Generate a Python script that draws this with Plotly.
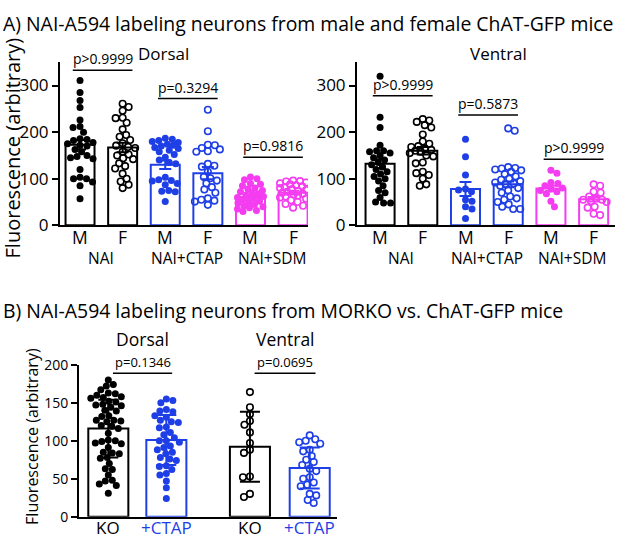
import plotly.graph_objects as go
import numpy as np

W, H = 617, 545
FONT = "Open Sans"
BLACK = "#000000"
BLUE = "#1f3fe6"
PINK = "#f43cf0"

# ---------------- Panel A data ----------------
a_groups = ["NAI", "NAI+CTAP", "NAI+SDM"]
a_sex = ["M", "F"]
a_colors = [BLACK, BLACK, BLUE, BLUE, PINK, PINK]
a_filled = [True, False, True, False, True, False]

dorsal_pvals = ["p>0.9999", "p=0.3294", "p=0.9816"]
dorsal_pline = [333, 272, 146]
ventral_pvals = ["p>0.9999", "p=0.5873", "p>0.9999"]
ventral_pline = [278, 237, 142]

dorsal_means = [173, 167, 130, 112, 61, 70]
dorsal_sem = [10, 10, 9, 13, 4, 4]
ventral_means = [132, 160, 78, 88, 79, 56]
ventral_sem = [10, 8, 15, 6, 6, 5]

dorsal_nai_m = [311, 285, 268, 253, 226, 212, 210, 200, 186, 184, 182, 178, 175, 172,
                170, 163, 158, 150, 148, 145, 143, 120, 103, 100, 100, 93, 85, 57]
dorsal_nai_f = [261, 254, 246, 231, 230, 220, 206, 194, 190, 183, 176, 171, 168, 166,
                158, 152, 150, 144, 142, 133, 127, 122, 111, 100, 94, 87, 80]
dorsal_ctap_m = [187, 185, 182, 180, 178, 174, 172, 170, 167, 165, 161, 158, 152, 146,
                 140, 135, 132, 103, 98, 96, 95, 90, 87, 75, 73, 72, 51]
dorsal_ctap_f = [248, 202, 173, 172, 166, 163, 159, 158, 132, 128, 126, 115, 104, 101,
                 96, 90, 82, 77, 70, 58, 55, 53, 51, 44]
dorsal_sdm_m = [104, 100, 98, 90, 88, 85, 80, 78, 75, 72, 70, 68, 65, 62, 60, 58, 55,
                52, 50, 48, 45, 42, 40, 38, 35, 32, 30]
dorsal_sdm_f = [96, 95, 94, 92, 90, 88, 86, 84, 82, 80, 78, 76, 74, 72, 70, 68, 66, 64,
                62, 60, 57, 54, 50, 46, 42, 38]

ventral_nai_m = [320, 232, 210, 172, 160, 160, 158, 155, 150, 145, 140, 135, 130, 125,
                 120, 115, 110, 105, 100, 95, 85, 75, 70, 60, 50, 48, 48]
ventral_nai_f = [228, 225, 222, 215, 210, 195, 180, 175, 170, 168, 165, 162, 160, 158,
                 155, 150, 148, 135, 133, 115, 112, 108, 100, 88, 85]
ventral_ctap_m = [185, 147, 108, 78, 76, 72, 55, 52, 40, 35, 15]
ventral_ctap_f = [208, 203, 125, 123, 122, 120, 118, 115, 110, 105, 100, 98, 95, 92, 90,
                  88, 85, 80, 75, 70, 62, 58, 55, 50, 45, 40, 35, 35]
ventral_sdm_m = [118, 112, 92, 90, 85, 80, 78, 75, 72, 68, 52, 40]
ventral_sdm_f = [88, 85, 72, 70, 62, 58, 55, 55, 52, 50, 40, 38, 25, 22]

dorsal_points = [dorsal_nai_m, dorsal_nai_f, dorsal_ctap_m, dorsal_ctap_f, dorsal_sdm_m, dorsal_sdm_f]
ventral_points = [ventral_nai_m, ventral_nai_f, ventral_ctap_m, ventral_ctap_f, ventral_sdm_m, ventral_sdm_f]

# ---------------- Panel B data ----------------
b_labels = ["KO", "+CTAP", "KO", "+CTAP"]
b_regions = ["Dorsal", "Ventral"]
b_pvals = ["p=0.1346", "p=0.0695"]
b_pline = [189, 189]
b_colors = [BLACK, BLUE, BLACK, BLUE]
b_filled = [True, True, False, False]
b_means = [116, 101, 92, 64]
b_sd = [38, 33, 46, 27]

b_dorsal_ko = [180, 174, 172, 167, 163, 162, 160, 158, 157, 156, 152, 151, 148, 147, 146,
               144, 140, 139, 133, 132, 127, 127, 126, 125, 120, 119, 116, 110, 101, 100,
               99, 97, 96, 91, 85, 84, 83, 78, 77, 70, 63, 62, 55, 48, 47, 43, 41, 31]
b_dorsal_ctap = [155, 153, 150, 141, 139, 138, 133, 131, 127, 125, 124, 118, 117, 111, 108,
                 104, 100, 100, 98, 93, 91, 88, 85, 83, 78, 76, 74, 67, 66, 62, 57, 55, 47,
                 38, 24]
b_ventral_ko = [164, 144, 135, 126, 121, 111, 97, 88, 84, 53, 52, 30, 26]
b_ventral_ctap = [107, 102, 100, 98, 96, 88, 86, 80, 75, 72, 68, 63, 60, 52, 50, 45, 42,
                  40, 30, 28, 22, 18]
b_points = [b_dorsal_ko, b_dorsal_ctap, b_ventral_ko, b_ventral_ctap]

# ---------------- layout geometry (pixels) ----------------
def fx(p):
    return p / W

def fy(p):
    return 1 - p / H

A_Y_DOM = [fy(224), fy(54.3)]
A_Y_RANGE = [0, 350]
AD_X_DOM = [fx(60), fx(308)]
AD_X_RANGE = [-0.47, 5.35]
AV_X_DOM = [fx(357), fx(615)]
AV_X_RANGE = [-0.54, 5.5]
B_X_DOM = [fx(79), fx(337)]
B_X_RANGE = [-0.505, 3.94]
B_Y_DOM = [fy(527), fy(369)]
B_Y_RANGE = [0, 200]

a_pos = list(range(6))
b_pos = [0, 1.0, 2.44, 3.47]


def swarm(vals, pxx, pxy, diam, maxhalf):
    cand = np.arange(-maxhalf, maxhalf + 0.01, 0.5)
    order = sorted(range(len(vals)), key=lambda i: -vals[i])
    res = [0.0] * len(vals)
    placed = []
    for k, i in enumerate(order):
        yp = vals[i] * pxy
        if not placed:
            placed.append((0.0, yp))
            continue
        P = np.array(placed)
        d = np.sqrt((cand[:, None] - P[None, :, 0]) ** 2 + (yp - P[None, :, 1]) ** 2).min(axis=1)
        ok = d >= diam
        if ok.any():
            idx = np.where(ok)[0]
            a = np.abs(cand[idx])
            m = a.min()
            choices = idx[np.isclose(a, m)]
            j = choices[k % len(choices)]
        else:
            j = int(np.argmax(d))
        res[i] = cand[j] / pxx
        placed.append((cand[j], yp))
    return res


fig = go.Figure()


def add_panel(xa, ya, pos, means, errs, points, colors, filled, xdom, xrange, ydom, yrange,
              barw, maxhalf, capw):
    pxx = (xdom[1] - xdom[0]) * W / (xrange[1] - xrange[0])
    pxy = (ydom[1] - ydom[0]) * H / (yrange[1] - yrange[0])
    fig.add_trace(go.Bar(x=pos, y=means, width=barw, xaxis=xa, yaxis=ya,
                         marker=dict(color="white", line=dict(color=colors, width=2)),
                         showlegend=False, hoverinfo="skip"))
    for p, vals, c, f in zip(pos, points, colors, filled):
        offs = swarm(vals, pxx, pxy, 6.6, maxhalf)
        xs = [p + o for o in offs]
        if f:
            mk = dict(symbol="circle", size=7, color=c, line=dict(width=0))
        else:
            mk = dict(symbol="circle-open", size=6.5, color=c, line=dict(width=1.6, color=c))
        fig.add_trace(go.Scatter(x=xs, y=vals, mode="markers", marker=mk, xaxis=xa, yaxis=ya,
                                 showlegend=False, hoverinfo="skip"))
    for p, m, e, c in zip(pos, means, errs, colors):
        fig.add_trace(go.Scatter(x=[p], y=[m], mode="markers", marker=dict(size=1, opacity=0),
                                 error_y=dict(type="data", array=[e], color=c, thickness=2, width=capw),
                                 xaxis=xa, yaxis=ya, showlegend=False, hoverinfo="skip"))


add_panel("x", "y", a_pos, dorsal_means, dorsal_sem, dorsal_points, a_colors, a_filled,
          AD_X_DOM, AD_X_RANGE, A_Y_DOM, A_Y_RANGE, 0.68, 13, 6)
add_panel("x2", "y2", a_pos, ventral_means, ventral_sem, ventral_points, a_colors, a_filled,
          AV_X_DOM, AV_X_RANGE, A_Y_DOM, A_Y_RANGE, 0.68, 13, 6)
add_panel("x3", "y3", b_pos, b_means, b_sd, b_points, b_colors, b_filled,
          B_X_DOM, B_X_RANGE, B_Y_DOM, B_Y_RANGE, 0.69, 19, 10)

xax = dict(showgrid=False, zeroline=False, showline=True, linewidth=2, linecolor="black",
           showticklabels=False, ticks="", fixedrange=True)


def yax(tickvals, size):
    return dict(showgrid=False, zeroline=False, showline=True, linewidth=2, linecolor="black",
                ticks="outside", ticklen=6, tickwidth=2, tickcolor="black", tickvals=tickvals,
                tickfont=dict(family=FONT, size=size, color="black"), fixedrange=True)


fig.update_layout(
    width=W, height=H, margin=dict(l=0, r=0, t=0, b=0),
    paper_bgcolor="white", plot_bgcolor="white", barmode="overlay",
    font=dict(family=FONT, color="black"),
    xaxis=dict(xax, domain=AD_X_DOM, range=AD_X_RANGE, anchor="y"),
    yaxis=dict(yax([0, 100, 200, 300], 17), domain=A_Y_DOM, range=A_Y_RANGE, anchor="x"),
    xaxis2=dict(xax, domain=AV_X_DOM, range=AV_X_RANGE, anchor="y2"),
    yaxis2=dict(yax([0, 100, 200, 300], 17), domain=A_Y_DOM, range=A_Y_RANGE, anchor="x2"),
    xaxis3=dict(xax, domain=B_X_DOM, range=B_X_RANGE, anchor="y3"),
    yaxis3=dict(yax([0, 50, 100, 150, 200], 14), domain=B_Y_DOM, range=B_Y_RANGE, anchor="x3"),
)

ann = []
shapes = []


def txt(text, x, y, size, xref="paper", yref="paper", xanchor="center", yanchor="middle",
        color="black", angle=0):
    ann.append(dict(text=text, x=x, y=y, xref=xref, yref=yref, xanchor=xanchor, yanchor=yanchor,
                    showarrow=False, textangle=angle,
                    font=dict(family=FONT, size=size, color=color)))


# titles
txt("A) NAI-A594 labeling neurons from male and female ChAT-GFP mice", fx(1), fy(14), 19.4, xanchor="left")
txt("B) NAI-A594 labeling neurons from MORKO vs. ChAT-GFP mice", fx(1), fy(313), 19.4, xanchor="left")
txt("Fluorescence (arbitrary)", fx(12), fy(144), 20, angle=-90)
txt("Fluorescence (arbitrary)", fx(32), fy(444), 16, angle=-90)
txt("Dorsal", fx(163), fy(45), 17)
txt("Ventral", fx(498), fy(45), 17)

# panel A x labels and p-values
for xa, ya, pv, pl in [("x", "y", dorsal_pvals, dorsal_pline), ("x2", "y2", ventral_pvals, ventral_pline)]:
    for i, p in enumerate(a_pos):
        txt(a_sex[i % 2], p, fy(236), 17.5, xref=xa)
    for g in range(3):
        mid = (a_pos[2 * g] + a_pos[2 * g + 1]) / 2
        txt(a_groups[g], mid, fy(258), 15.5, xref=xa)
        x0, x1 = a_pos[2 * g] - 0.17, a_pos[2 * g + 1] + 0.23
        shapes.append(dict(type="line", xref=xa, yref=ya, x0=x0, x1=x1, y0=pl[g], y1=pl[g],
                           line=dict(color="black", width=1.5)))
        txt(pv[g], (x0 + x1) / 2, pl[g], 14, xref=xa, yref=ya, yanchor="bottom")

# panel B labels
for i, p in enumerate(b_pos):
    txt(b_labels[i], p, fy(538), 17, xref="x3", color=b_colors[i])
for g in range(2):
    x0, x1 = b_pos[2 * g] + 0.08, b_pos[2 * g + 1] + 0.1
    shapes.append(dict(type="line", xref="x3", yref="y3", x0=x0, x1=x1, y0=b_pline[g], y1=b_pline[g],
                       line=dict(color="black", width=1.5)))
    txt(b_pvals[g], (x0 + x1) / 2, b_pline[g], 13, xref="x3", yref="y3", yanchor="bottom")
    txt(b_regions[g], (x0 + x1) / 2, fy(342), 17.5, xref="x3")

fig.update_layout(annotations=ann, shapes=shapes)

POST = ("document.body.style.margin='0';document.body.style.overflow='hidden';"
        "var gd=document.getElementById('{plot_id}');gd.style.position='absolute';"
        "gd.style.left='0px';gd.style.top='0px';")
fig.write_html("out.html", post_script=POST, config={"displayModeBar": False})
